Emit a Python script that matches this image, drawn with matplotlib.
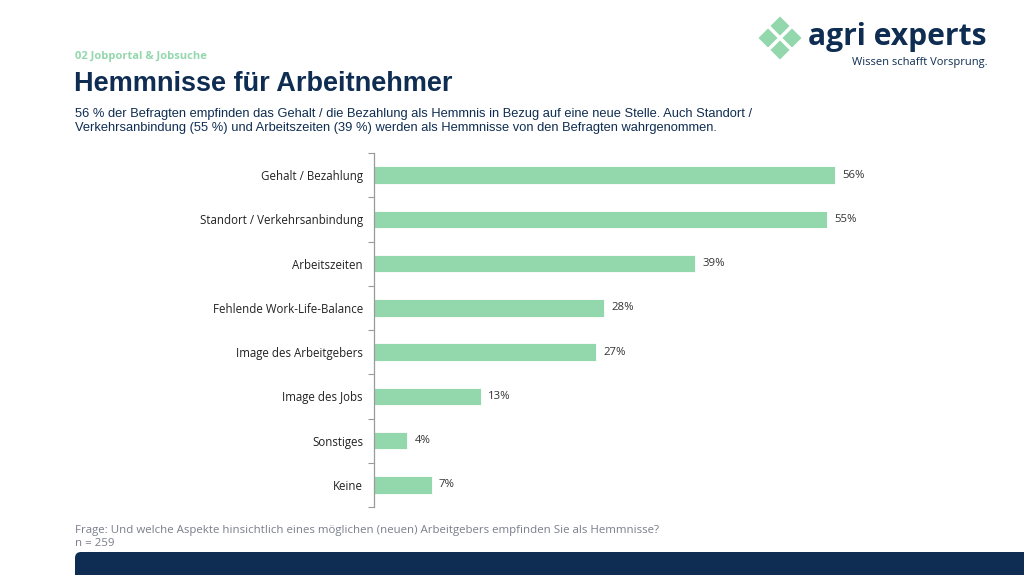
import numpy as np
import matplotlib.pyplot as plt
from matplotlib.patches import RegularPolygon, FancyBboxPatch

# Data
categories = ['Gehalt / Bezahlung', 'Standort / Verkehrsanbindung', 'Arbeitszeiten',
              'Fehlende Work-Life-Balance', 'Image des Arbeitgebers', 'Image des Jobs',
              'Sonstiges', 'Keine']
values = [56, 55, 39, 28, 27, 13, 4, 7]

navy = '#0f2d52'
green = '#93d7ad'
label_font = ['Open Sans', 'DejaVu Sans']

fig = plt.figure(figsize=(10.24, 5.75), dpi=100)
fig.patch.set_facecolor('white')

# main bar chart
ax = fig.add_axes([374 / 1024, 1 - 507 / 575, 576 / 1024, 354 / 575])
y = np.arange(len(categories))
ax.barh(y, values, height=0.4, color=green, edgecolor='white', linewidth=0.6)
ax.set_xlim(0, 70)
ax.set_ylim(len(categories) - 0.5, -0.5)
for yi, v in zip(y, values):
    ax.text(v + 0.9, yi, f'{v}%', va='center', ha='left', fontsize=8.2,
            color='#333333', family=label_font)

ax.set_yticks(y)
ax.set_yticklabels(categories, family=label_font, fontsize=8.3, color='#222222')
ax.tick_params(axis='y', which='major', length=0, pad=8)
ax.set_yticks(np.arange(-0.5, len(categories) + 0.5, 1), minor=True)
ax.tick_params(axis='y', which='minor', length=4, color='#9a9a9a', width=0.8)
ax.set_xticks([])
for s in ['top', 'right', 'bottom']:
    ax.spines[s].set_visible(False)
ax.spines['left'].set_color('#9a9a9a')
ax.spines['left'].set_linewidth(0.9)

# header texts
fig.text(75 / 1024, 1 - 56 / 575, '02 Jobportal & Jobsuche', fontsize=8, color=green,
         fontweight='bold', family=label_font, va='center')
fig.text(74 / 1024, 1 - 91 / 575, 'Hemmnisse für Arbeitnehmer', fontsize=19.5,
         color=navy, fontweight='bold', family='Liberation Sans', va='baseline')
fig.text(75 / 1024, 1 - 121 / 575,
         '56 % der Befragten empfinden das Gehalt / die Bezahlung als Hemmnis in Bezug auf eine neue Stelle. Auch Standort /\n'
         'Verkehrsanbindung (55 %) und Arbeitszeiten (39 %) werden als Hemmnisse von den Befragten wahrgenommen.',
         fontsize=9.3, color=navy, family='Liberation Sans', va='center', linespacing=1.15)

# footer
fig.text(75 / 1024, 1 - 530 / 575,
         'Frage: Und welche Aspekte hinsichtlich eines möglichen (neuen) Arbeitgebers empfinden Sie als Hemmnisse?',
         fontsize=8.25, color='#7a7f8c', family=label_font, va='center')
fig.text(75 / 1024, 1 - 544 / 575, 'n = 259', fontsize=8.25, color='#7a7f8c',
         family=label_font, va='center')

tr = fig.dpi_scale_trans
fig.patches.append(FancyBboxPatch((0.81, -0.3), 10.0, 0.47,
                                  boxstyle='round,pad=0.06', transform=tr,
                                  facecolor=navy, edgecolor='none'))

# logo
cx, cy = 7.80, 5.75 - 0.38
for dx, dy in [(-0.12, 0), (0.12, 0), (0, 0.12), (0, -0.12)]:
    fig.patches.append(RegularPolygon((cx + dx, cy + dy), 4, radius=0.095,
                                      orientation=0, transform=tr,
                                      facecolor=green, edgecolor='none'))
fig.text(808 / 1024, 1 - 37 / 575, 'agri experts', fontsize=21.6, color=navy,
         fontweight='bold', family=label_font, va='center')
fig.text(988 / 1024, 1 - 63 / 575, 'Wissen schafft Vorsprung.', fontsize=8, color=navy,
         family=label_font, va='center', ha='right')

fig.savefig('out.png', dpi=100)
